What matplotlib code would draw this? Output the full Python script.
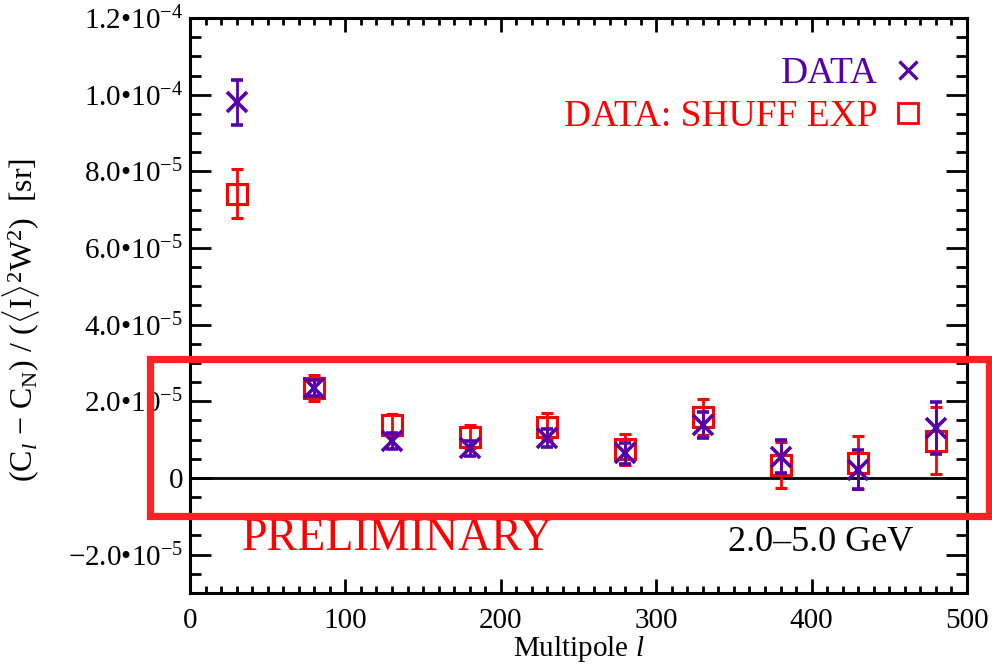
import matplotlib
matplotlib.use('Agg')
import matplotlib.pyplot as plt
from matplotlib.ticker import MultipleLocator, FuncFormatter
from matplotlib.lines import Line2D
from matplotlib.patches import Rectangle

plt.rcParams['font.family'] = ['Liberation Serif', 'DejaVu Serif']
plt.rcParams['mathtext.fontset'] = 'custom'
plt.rcParams['mathtext.rm'] = 'Liberation Serif'
plt.rcParams['mathtext.it'] = 'Liberation Serif:italic'

# multipole bin centres
ell = [30, 80, 130, 180, 230, 280, 330, 380, 430, 480]

# DATA (purple crosses)
data_cl = [9.8e-5, 2.35e-5, 0.97e-5, 0.77e-5, 1.04e-5, 0.64e-5, 1.38e-5, 0.56e-5, 0.21e-5, 1.30e-5]
data_err = [0.58e-5, 0.20e-5, 0.21e-5, 0.20e-5, 0.24e-5, 0.28e-5, 0.35e-5, 0.42e-5, 0.51e-5, 0.68e-5]

# DATA: SHUFF EXP (red squares)
shuff_cl = [7.42e-5, 2.35e-5, 1.38e-5, 1.08e-5, 1.34e-5, 0.75e-5, 1.58e-5, 0.34e-5, 0.40e-5, 0.97e-5]
shuff_err = [0.63e-5, 0.33e-5, 0.28e-5, 0.30e-5, 0.35e-5, 0.40e-5, 0.47e-5, 0.60e-5, 0.70e-5, 0.87e-5]

purple = '#5500aa'
red = '#ff0000'


# IDL style tick labels: 2.0•10^-5
def sci_label(v, pos):
    if abs(v) < 1e-12:
        return '0'
    exp = int(f'{v:e}'.split('e')[1])
    mant = v / 10**exp
    return f'{mant:.1f}'.replace('-', '\u2212') + '\u202210' + r'$^{' + f'{exp}'.replace('-', '\u2212') + '}$'


fig = plt.figure(figsize=(9.92, 6.72), dpi=100)
ax = fig.add_axes([0.1915, 0.1176, 0.7833, 0.8556])

ax.axhline(0, color='black', lw=2.0, zorder=1)

ax.errorbar(ell, shuff_cl, yerr=shuff_err, fmt='s', color=red, mfc='none', mec=red,
            ms=14, mew=2.2, elinewidth=2.0, capsize=4, capthick=2.0, zorder=3)
ax.errorbar(ell, data_cl, yerr=data_err, fmt='x', color=purple, mec=purple,
            ms=15, mew=2.6, elinewidth=2.0, capsize=4, capthick=2.0, zorder=4)

ax.set_xlim(0, 500)
ax.set_ylim(-3e-5, 1.2e-4)
ax.xaxis.set_major_locator(MultipleLocator(100))
ax.xaxis.set_minor_locator(MultipleLocator(10))
ax.yaxis.set_major_locator(MultipleLocator(2e-5))
ax.yaxis.set_minor_locator(MultipleLocator(0.5e-5))
ax.yaxis.set_major_formatter(FuncFormatter(sci_label))

ax.tick_params(which='both', direction='in', top=True, right=True, width=2.0,
               labelsize=21, colors='black')
ax.tick_params(axis='x', which='major', length=10, pad=11)
ax.tick_params(axis='x', which='minor', length=5)
ax.tick_params(axis='y', which='major', length=15, pad=5)
ax.tick_params(axis='y', which='minor', length=8)
for s in ax.spines.values():
    s.set_linewidth(2.2)

ax.set_xlabel(r'Multipole $l$', fontsize=21, labelpad=0)
ax.set_ylabel(r'(C$_l$ $-$ C$_\mathrm{N}$) / ($\langle$I$\rangle^2$W$^2$)  [sr]', fontsize=23)
ax.yaxis.set_label_coords(-0.19, 0.475)

handles = [Line2D([], [], ls='none', marker='x', color=purple, ms=13, mew=2.4),
           Line2D([], [], ls='none', marker='s', color=red, mfc='none', ms=14, mew=2.0)]
ax.legend(handles, ['DATA', 'DATA: SHUFF EXP'], loc='upper right', frameon=False,
          markerfirst=False, labelcolor=[purple, red], fontsize=27,
          handlelength=0.8, handletextpad=0.4, labelspacing=0.21,
          borderaxespad=0.3, bbox_to_anchor=(0.977, 0.978))

ax.text(0.267, 0.095, 'PRELIMINARY', transform=ax.transAxes, color=red,
        fontsize=33, ha='center', va='center')
ax.text(0.931, 0.088, '2.0\u20135.0 GeV', transform=ax.transAxes, color='black',
        fontsize=26, ha='right', va='center')

box = Rectangle((0.1512, 0.2321), 0.8453, 0.2344, transform=fig.transFigure,
                fill=False, edgecolor='#ff2222', lw=5.2, zorder=10, clip_on=False)
fig.patches.append(box)

fig.savefig('out.png', dpi=100)
